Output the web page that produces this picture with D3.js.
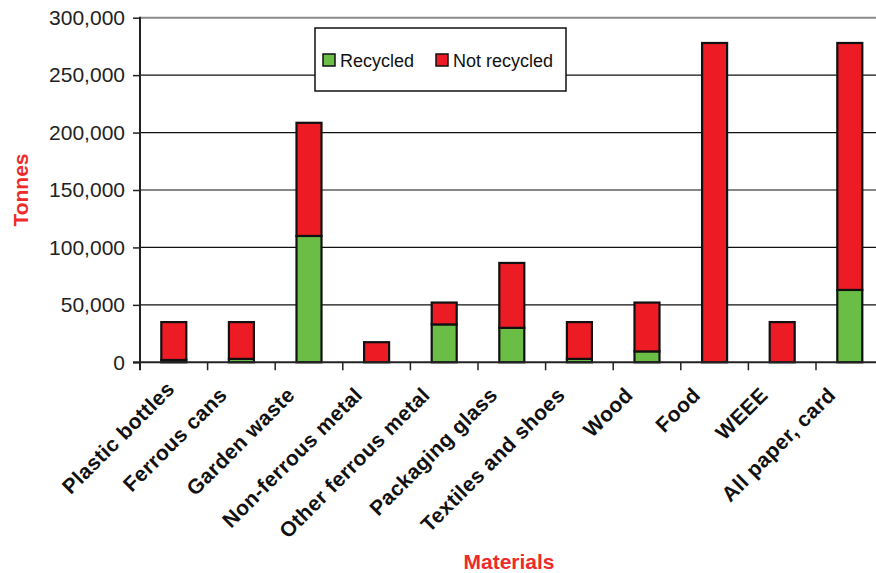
<!DOCTYPE html>
<html>
<head>
<meta charset="utf-8">
<script src="https://cdn.jsdelivr.net/npm/d3@7"></script>
<style>
  html, body { margin: 0; padding: 0; background: #fff; }
  svg { display: block; font-family: "Liberation Sans", Arial, sans-serif; }
</style>
</head>
<body>
<svg id="chart" width="876" height="573"></svg>
<script>
const categories = ["Plastic bottles", "Ferrous cans", "Garden waste", "Non-ferrous metal",
  "Other ferrous metal", "Packaging glass", "Textiles and shoes", "Wood", "Food", "WEEE",
  "All paper, card"];
const recycled    = [2000, 3000, 110000, 0, 33000, 30000, 3000, 9500, 0, 0, 63000];
const notRecycled = [33000, 32000, 98500, 17500, 19000, 56500, 32000, 42500, 278000, 35000, 215000];
const seriesNames = ["Recycled", "Not recycled"];
const yTicks = [0, 50000, 100000, 150000, 200000, 250000, 300000];
const colors = ["#6BBE45", "#ED1C24"];

const svg = d3.select("#chart");
const x0 = 140, x1 = 883.6, yTop = 17.7, yBot = 362.3;

const x = d3.scaleBand().domain(categories).range([x0, x1]);
const y = d3.scaleLinear().domain([0, 300000]).range([yBot, yTop]);

const rows = categories.map((c, i) => ({cat: c, Recycled: recycled[i], "Not recycled": notRecycled[i]}));
const stacked = d3.stack().keys(seriesNames)(rows);

// gridlines
svg.append("g").selectAll("line").data(yTicks.filter(t => t > 0)).join("line")
  .attr("x1", x0).attr("x2", 876)
  .attr("y1", d => y(d)).attr("y2", d => y(d))
  .attr("stroke", d => d === 300000 ? "#8a8a8a" : "#111")
  .attr("stroke-width", d => d === 300000 ? 2 : 1.2);

// bars
const bw = 25;
svg.append("g").selectAll("g").data(stacked).join("g")
  .attr("fill", (d, i) => colors[i])
  .selectAll("rect").data(d => d.map(v => ({v, cat: v.data.cat}))).join("rect")
  .filter(d => d.v[1] - d.v[0] > 0)
  .attr("x", d => x(d.cat) + x.bandwidth() / 2 - bw / 2)
  .attr("width", bw)
  .attr("y", d => y(d.v[1]))
  .attr("height", d => y(d.v[0]) - y(d.v[1]))
  .attr("stroke", "#111")
  .attr("stroke-width", 2.2);

// y axis
const yAxis = d3.axisLeft(y).tickValues(yTicks).tickSize(7).tickPadding(8)
  .tickFormat(d3.format(","));
const gy = svg.append("g").attr("transform", `translate(${x0},0)`).call(yAxis);
gy.select(".domain").remove();
gy.selectAll(".tick line").attr("stroke", "#222").attr("stroke-width", 1.5);
gy.selectAll(".tick text").attr("font-size", 21).attr("fill", "#222")
  .attr("font-family", "Liberation Sans, Arial, sans-serif");
svg.append("line").attr("x1", x0).attr("x2", x0).attr("y1", yTop - 1).attr("y2", yBot + 8)
  .attr("stroke", "#222").attr("stroke-width", 2);

// x axis
svg.append("line").attr("x1", x0 - 7).attr("x2", 876).attr("y1", yBot).attr("y2", yBot)
  .attr("stroke", "#222").attr("stroke-width", 2);
svg.append("g").selectAll("line").data(categories.slice(1)).join("line")
  .attr("x1", d => x(d)).attr("x2", d => x(d))
  .attr("y1", yBot).attr("y2", yBot + 8)
  .attr("stroke", "#222").attr("stroke-width", 1.5);

// category labels
svg.append("g").selectAll("text").data(categories).join("text")
  .attr("transform", (d, i) => `translate(${x(d) + x.bandwidth() / 2 - (i === 0 ? -2 : 13)},${yBot + (i === 0 ? 28 : 34)}) rotate(-45)`)
  .attr("text-anchor", "end")
  .attr("font-size", 21).attr("font-weight", "bold").attr("fill", "#111")
  .attr("letter-spacing", 0.4)
  .text(d => d);

// axis titles
svg.append("text").attr("transform", "translate(28,190) rotate(-90)")
  .attr("text-anchor", "middle").attr("font-size", 21).attr("font-weight", "bold")
  .attr("fill", "#EE2A2A").text("Tonnes");
svg.append("text").attr("x", 509).attr("y", 569)
  .attr("text-anchor", "middle").attr("font-size", 21).attr("font-weight", "bold")
  .attr("fill", "#EE2A2A").text("Materials");

// legend
const lg = svg.append("g");
lg.append("rect").attr("x", 315).attr("y", 28).attr("width", 251).attr("height", 63)
  .attr("fill", "#fff").attr("stroke", "#111").attr("stroke-width", 1.5);
const legendX = [323, 436];
seriesNames.forEach((s, i) => {
  lg.append("rect").attr("x", legendX[i]).attr("y", 54).attr("width", 12).attr("height", 12)
    .attr("fill", colors[i]).attr("stroke", "#111").attr("stroke-width", 1.5);
  lg.append("text").attr("x", legendX[i] + 17).attr("y", 66.5)
    .attr("font-size", 18).attr("fill", "#111").text(s);
});
</script>
</body>
</html>
